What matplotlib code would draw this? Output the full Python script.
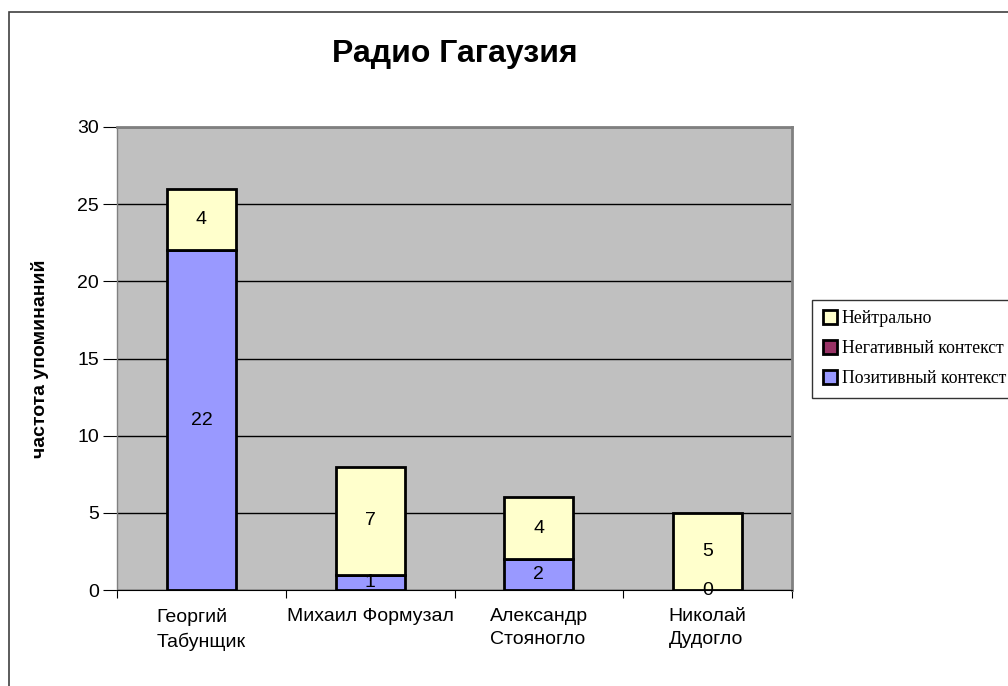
import numpy as np
import matplotlib.pyplot as plt
from matplotlib.patches import Rectangle

# data
candidates = ["Георгий\nТабунщик", "Михаил Формузал", "Александр\nСтояногло", "Николай\nДудогло"]
positive = [22, 1, 2, 0]
negative = [0, 0, 0, 0]
neutral = [4, 7, 4, 5]
series_names = ["Позитивный контекст", "Негативный контекст", "Нейтрально"]
series_colors = ["#9999FF", "#993366", "#FFFFCC"]

plt.rcParams['font.family'] = ['Liberation Sans', 'DejaVu Sans']

fig = plt.figure(figsize=(10.08, 6.86), dpi=100)
ax = fig.add_axes([0.1161, 0.1399, 0.6696, 0.675])
ax.set_facecolor("#C0C0C0")

x = np.arange(len(candidates))
w = 0.41
bottom = np.zeros(len(candidates))
bars = []
for vals, name, col in zip([positive, negative, neutral], series_names, series_colors):
    b = ax.bar(x, vals, w, bottom=bottom, color=col, edgecolor="black",
               linewidth=2, label=name, zorder=3)
    bars.append(b)
    bottom += np.array(vals)

# value labels (positive and neutral only, as in the reference)
for i in range(len(candidates)):
    ax.text(x[i], positive[i] / 2, str(positive[i]), ha="center", va="center",
            fontsize=14, zorder=4)
    top0 = positive[i] + negative[i]
    ax.text(x[i], top0 + neutral[i] / 2, str(neutral[i]), ha="center", va="center",
            fontsize=14, zorder=4)

ax.set_xlim(-0.5, len(candidates) - 0.5)
ax.set_ylim(0, 30)
ax.set_yticks(np.arange(0, 31, 5))
ax.yaxis.grid(True, color="black", linewidth=1)
ax.set_axisbelow(True)

ax.set_xticks(np.arange(-0.5, len(candidates)), minor=False)
ax.set_xticklabels([])
ax.set_xticks(x, minor=True)
ax.set_xticklabels(candidates, minor=True, fontsize=14, ha="center",
                   multialignment="left", linespacing=1.45)
ax.tick_params(axis="x", which="minor", length=0, pad=13)
ax.tick_params(axis="x", which="major", length=6, direction="out", color="black")
ax.tick_params(axis="y", length=10, direction="out", labelsize=14, pad=3)

for side in ["top", "right"]:
    ax.spines[side].set_color("#808080")
    ax.spines[side].set_linewidth(2)
ax.spines["left"].set_color("#808080")
ax.spines["left"].set_linewidth(1)
ax.spines["bottom"].set_color("black")

ax.set_ylabel("частота упоминаний", fontsize=14, fontweight="bold", labelpad=20)

fig.text(0.4514, 0.922, "Радио Гагаузия", ha="center", va="center",
         fontsize=23, fontweight="bold")

handles = [bars[2], bars[1], bars[0]]
leg = fig.legend(handles, [series_names[2], series_names[1], series_names[0]],
                 loc="upper left", bbox_to_anchor=(0.806, 0.563),
                 prop={"family": "Liberation Serif", "size": 12.8},
                 frameon=True, fancybox=False, edgecolor="black",
                 handlelength=0.8, handleheight=0.8, handletextpad=0.25,
                 labelspacing=0.73, borderpad=0.6, borderaxespad=0)
leg.get_frame().set_linewidth(1)

# outer chart frame
fig.patches.append(Rectangle((0.009, -0.1), 1.2, 1.0825, transform=fig.transFigure,
                             fill=False, edgecolor="#404040", linewidth=1.2))

fig.savefig("out.png", dpi=100)
